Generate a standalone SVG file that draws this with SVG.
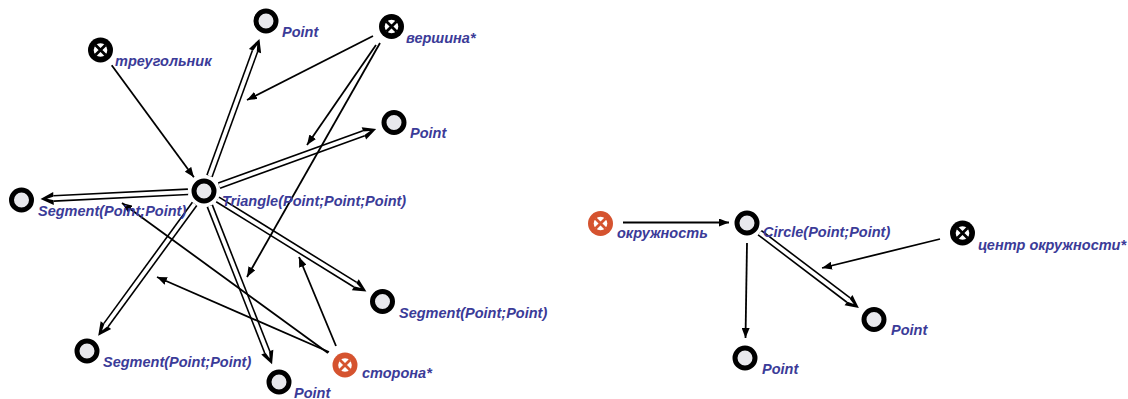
<svg xmlns="http://www.w3.org/2000/svg" width="1128" height="399" viewBox="0 0 1128 399">
  <style>
    .lbl { font-family: "Liberation Sans", Arial, sans-serif; font-weight: bold; font-style: italic; font-size: 14.5px; fill: #3b3b98; }
    .ring { fill: #e8e8ec; stroke: #000; stroke-width: 5; }
    .disk { fill: #000; }
    .disk-o { fill: #d5532f; }
    .hole { fill: #fff; }
    .cross { stroke-width: 2.8; }
    .arr { stroke: #000; stroke-width: 1.8; fill: none; marker-end: url(#tip); }
    .dbl-o { stroke: #000; stroke-width: 7; fill: none; }
    .dbl-i { stroke: #fff; stroke-width: 3.8; fill: none; marker-end: url(#hollow); }
  </style>
  <defs>
    <marker id="tip" markerUnits="userSpaceOnUse" viewBox="0 0 10 8" refX="10" refY="4" markerWidth="10" markerHeight="8" orient="auto">
      <path d="M0,0 L10,4 L0,8 z" fill="#000"/>
    </marker>
    <marker id="hollow" markerUnits="userSpaceOnUse" viewBox="-1 -7 16 14" refX="0" refY="0" markerWidth="16" markerHeight="14" orient="auto" overflow="visible">
      <path d="M0,-6.5 L13,0 L0,6.5 z" fill="#000"/>
      <path d="M-0.5,-2 L6.5,0 L-0.5,2 z" fill="#fff"/>
    </marker>
    <!-- plain node: grey ring -->
    <circle id="ringNode" r="10" class="ring"/>
    <!-- crossed node glyph (white hole with X) -->
    <g id="crossMark">
      <circle r="6.8" class="hole"/>
      <path d="M-5,-5 L5,5 M5,-5 L-5,5" class="cross" stroke="#000"/>
    </g>
    <g id="crossMarkO">
      <circle r="6.8" class="hole"/>
      <path d="M-5,-5 L5,5 M5,-5 L-5,5" class="cross" stroke="#d5532f"/>
    </g>
  </defs>

  <!-- connectors -->
  <g id="connectors">
    <!-- double (structural) links -->
    <line class="dbl-o" x1="209.5" y1="176" x2="255" y2="51.1"/>
    <line class="dbl-i" x1="209.5" y1="176" x2="255" y2="51.1"/>
    <line class="dbl-o" x1="219.1" y1="185.6" x2="363.9" y2="133.3"/>
    <line class="dbl-i" x1="219.1" y1="185.6" x2="363.9" y2="133.3"/>
    <line class="dbl-o" x1="188" y1="191.8" x2="53.5" y2="198.4"/>
    <line class="dbl-i" x1="188" y1="191.8" x2="53.5" y2="198.4"/>
    <line class="dbl-o" x1="217.6" y1="199.4" x2="355.3" y2="284.7"/>
    <line class="dbl-i" x1="217.6" y1="199.4" x2="355.3" y2="284.7"/>
    <line class="dbl-o" x1="194.6" y1="203.9" x2="105.9" y2="325.2"/>
    <line class="dbl-i" x1="194.6" y1="203.9" x2="105.9" y2="325.2"/>
    <line class="dbl-o" x1="209.8" y1="205.9" x2="267.3" y2="352.2"/>
    <line class="dbl-i" x1="209.8" y1="205.9" x2="267.3" y2="352.2"/>
    <line class="dbl-o" x1="759.7" y1="232.7" x2="848.5" y2="300.1"/>
    <line class="dbl-i" x1="759.7" y1="232.7" x2="848.5" y2="300.1"/>

    <!-- single links -->
    <line class="arr" x1="111.7" y1="65.3" x2="193.9" y2="177.3"/>
    <line class="arr" x1="373" y1="36" x2="247" y2="100"/>
    <line class="arr" x1="376" y1="45" x2="307" y2="145"/>
    <line class="arr" x1="380" y1="43" x2="247" y2="277"/>
    <line class="arr" x1="328" y1="353" x2="122" y2="203"/>
    <line class="arr" x1="329" y1="352" x2="157" y2="277"/>
    <line class="arr" x1="336" y1="346" x2="299" y2="257"/>
    <line class="arr" x1="623" y1="222.5" x2="729" y2="222.5"/>
    <line class="arr" x1="940" y1="239" x2="822" y2="268"/>
    <line class="arr" x1="747" y1="243" x2="745.5" y2="338"/>
  </g>

  <!-- nodes -->
  <g id="n-triangle-word">
    <circle cx="100.5" cy="50" r="12.5" class="disk"/>
    <use href="#crossMark" x="100.5" y="50"/>
    <text class="lbl" x="115" y="66">треугольник</text>
  </g>
  <g id="n-triangle">
    <use href="#ringNode" x="204" y="191"/>
    <text class="lbl" x="222" y="206">Triangle(Point;Point;Point)</text>
  </g>
  <g id="n-point-top">
    <use href="#ringNode" x="266" y="21"/>
    <text class="lbl" x="282" y="37">Point</text>
  </g>
  <g id="n-vertex">
    <circle cx="391.5" cy="26.5" r="12.5" class="disk"/>
    <use href="#crossMark" x="391.5" y="26.5"/>
    <text class="lbl" x="406" y="43">вершина*</text>
  </g>
  <g id="n-point-right">
    <use href="#ringNode" x="394" y="122.5"/>
    <text class="lbl" x="410" y="138">Point</text>
  </g>
  <g id="n-segment-left">
    <use href="#ringNode" x="21.5" y="200"/>
    <text class="lbl" x="38" y="216">Segment(Point;Point)</text>
  </g>
  <g id="n-segment-right">
    <use href="#ringNode" x="382.5" y="301.5"/>
    <text class="lbl" x="399" y="318">Segment(Point;Point)</text>
  </g>
  <g id="n-segment-bottom">
    <use href="#ringNode" x="87" y="351"/>
    <text class="lbl" x="103" y="367">Segment(Point;Point)</text>
  </g>
  <g id="n-point-bottom">
    <use href="#ringNode" x="279" y="382"/>
    <text class="lbl" x="294" y="398">Point</text>
  </g>
  <g id="n-side">
    <circle cx="345" cy="365" r="12.5" class="disk-o"/>
    <use href="#crossMarkO" x="345" y="365"/>
    <text class="lbl" x="362" y="378">сторона*</text>
  </g>

  <g id="n-circle-word">
    <circle cx="600.5" cy="223.5" r="12.5" class="disk-o"/>
    <use href="#crossMarkO" x="600.5" y="223.5"/>
    <text class="lbl" x="617" y="238">окружность</text>
  </g>
  <g id="n-circle">
    <use href="#ringNode" x="747" y="223"/>
    <text class="lbl" x="763" y="237">Circle(Point;Point)</text>
  </g>
  <g id="n-center">
    <circle cx="962.5" cy="233" r="12.5" class="disk"/>
    <use href="#crossMark" x="962.5" y="233"/>
    <text class="lbl" x="978" y="250">центр окружности*</text>
  </g>
  <g id="n-circle-point-right">
    <use href="#ringNode" x="874" y="319.5"/>
    <text class="lbl" x="891" y="335">Point</text>
  </g>
  <g id="n-circle-point-bottom">
    <use href="#ringNode" x="745" y="358"/>
    <text class="lbl" x="762" y="374">Point</text>
  </g>
</svg>
